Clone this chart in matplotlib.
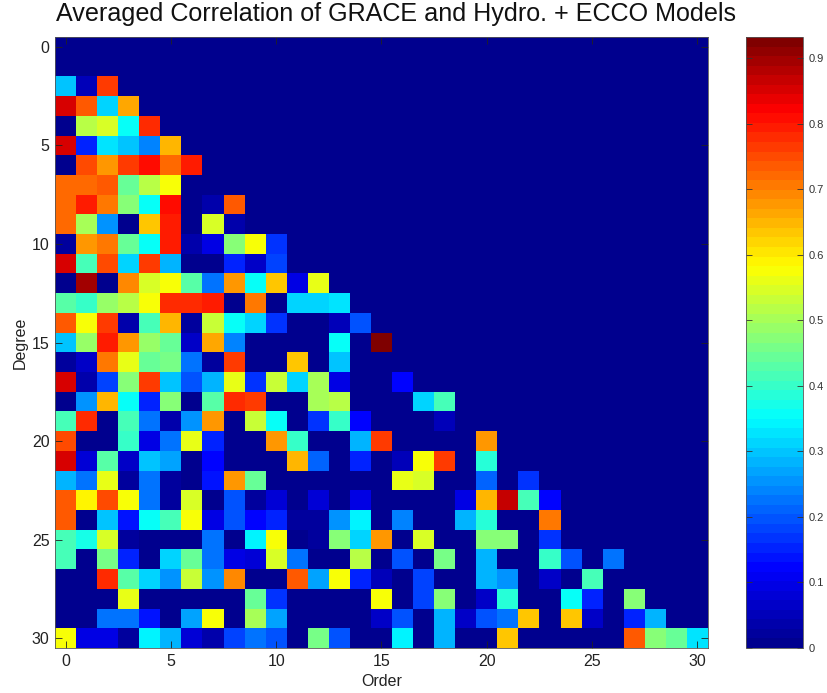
import numpy as np
import matplotlib
matplotlib.use("Agg")
import matplotlib.pyplot as plt
from matplotlib.colors import LinearSegmentedColormap

plt.rcParams['font.family'] = ['Liberation Sans', 'DejaVu Sans']

title = "Averaged Correlation of GRACE and Hydro. + ECCO Models"
x_label = "Order"
y_label = "Degree"
axis_ticks = [0, 5, 10, 15, 20, 25, 30]
bar_ticks = [0, .1, .2, .3, .4, .5, .6, .7, .8, .9]
bar_tick_labels = ["0", "0.1", "0.2", "0.3", "0.4", "0.5", "0.6", "0.7", "0.8", "0.9"]
vmax = 0.932

# Values per degree (row), from order 0 upward; orders not listed are zero
deg_00 = []
deg_01 = []
deg_02 = [.30, .05, .77]
deg_03 = [.85, .73, .31, .66]
deg_04 = [0, .52, .54, .35, .78]
deg_05 = [.85, .16, .33, .30, .24, .65]
deg_06 = [0, .75, .67, .77, .81, .72, .79]
deg_07 = [.72, .72, .74, .44, .52, .58]
deg_08 = [.72, .80, .70, .47, .35, .81, 0, .04, .74]
deg_09 = [.72, .50, .25, 0, .64, .79, 0, .54, .04]
deg_10 = [.02, .68, .71, .44, .36, .79, .04, .10, .47, .58, .17]
deg_11 = [.85, .42, .75, .31, .76, .28, .01, .01, .15, .06, .18]
deg_12 = [0, .90, 0, .69, .54, .58, .43, .23, .67, .35, .64, .10, .56]
deg_13 = [.43, .40, .49, .51, .58, .78, .78, .79, 0, .71, 0, .32, .31, .33]
deg_14 = [.74, .58, .76, .03, .41, .65, .02, .53, .35, .31, .17, 0, 0, .05, .20]
deg_15 = [.30, .49, .80, .67, .49, .45, .07, .66, .24, 0, 0, 0, 0, .35, 0, .93]
deg_16 = [.02, .07, .70, .56, .45, .46, .22, .02, .76, 0, 0, .64, 0, .30]
deg_17 = [.85, .03, .18, .47, .77, .30, .20, .29, .56, .17, .53, .31, .50, .10, 0, 0, .12]
deg_18 = [0, .26, .65, .35, .16, .47, .01, .43, .78, .76, 0, 0, .50, .52, 0, 0, 0, .31, .42]
deg_19 = [.42, .78, 0, .41, .22, .04, .26, .67, .01, .53, .35, .01, .17, .40, .12, 0, 0, 0, .05]
deg_20 = [.75, 0, 0, .40, .10, .22, .56, .15, 0, 0, .67, .40, 0, 0, .28, .76, 0, 0, 0, 0, .67]
deg_21 = [.85, .08, .43, .06, .30, .27, .01, .12, .01, .01, 0, .65, .21, 0, .15, 0, .05, .58, .77, 0, .38]
deg_22 = [.29, .22, .56, .02, .23, .02, 0, .14, .68, .45, 0, 0, 0, 0, 0, 0, .56, .54, 0, 0, .21, 0, .17]
deg_23 = [.74, .59, .75, .58, .22, .02, .54, .01, .19, .02, .08, 0, .08, 0, .09, 0, 0, 0, 0, .09, .65, .86, .42, .12]
deg_24 = [.74, .01, .30, .14, .35, .42, .58, .09, .20, .13, .16, .02, .02, .25, .34, 0, .24, 0, 0, .29, .38, 0, 0, .70]
deg_25 = [.42, .37, .54, .02, .01, .01, .01, .22, .01, .34, .58, .01, .02, .48, .31, .68, 0, .54, 0, 0, .48, .48, 0, .17]
deg_26 = [.41, 0, .46, .15, .01, .31, .44, .23, .09, .08, .55, .22, 0, 0, .52, 0, .20, 0, .46, 0, .29, 0, 0, .40, .19, 0, .23]
deg_27 = [0, 0, .78, .43, .31, .25, .53, .26, .69, 0, 0, .74, .27, .57, .16, .05, 0, .18, 0, 0, .29, .25, 0, .06, 0, .41]
deg_28 = [0, 0, 0, .56, 0, 0, 0, 0, 0, .45, .17, 0, 0, 0, 0, .58, 0, .18, .48, 0, .07, .38, 0, 0, .35, .16, 0, .47]
deg_29 = [0, 0, .22, .22, .14, 0, .27, .58, 0, .50, .27, 0, 0, 0, 0, .06, .20, 0, .29, .06, .19, .22, .64, 0, .64, .06, 0, .15, .29]
deg_30 = [.58, .09, .09, .02, .34, .28, .08, .03, .18, .22, .20, 0, .46, .20, 0, 0, .34, 0, .28, 0, 0, .64, 0, 0, 0, 0, 0, .74, .47, .45, .33]

rows = [deg_00, deg_01, deg_02, deg_03, deg_04, deg_05, deg_06, deg_07, deg_08, deg_09,
        deg_10, deg_11, deg_12, deg_13, deg_14, deg_15, deg_16, deg_17, deg_18, deg_19,
        deg_20, deg_21, deg_22, deg_23, deg_24, deg_25, deg_26, deg_27, deg_28, deg_29, deg_30]
grid = np.zeros((31, 31))
for i, r in enumerate(rows):
    grid[i, :len(r)] = r

W, H = 828, 693
fig = plt.figure(figsize=(W / 100, H / 100), dpi=100, facecolor='white')
ax = fig.add_axes([55 / W, 1 - 648 / H, 653 / W, 611 / H])
# Jet: navy start, red at about 0.825
cmap = LinearSegmentedColormap.from_list(
    'matlab_jet',
    [(0, (0, 0, .56)), (.125, (0, 0, 1)), (.375, (0, 1, 1)),
     (.625, (1, 1, 0)), (.885, (1, 0, 0)), (1, (.5, 0, 0))], N=64)
im = ax.imshow(grid, cmap=cmap, vmin=0, vmax=vmax, aspect='auto', interpolation='nearest')
ax.set_xticks(axis_ticks)
ax.set_yticks(axis_ticks)
ax.tick_params(direction='in', length=5, width=0.6, labelsize=11.5, color='#222222',
               labelcolor='#222222', top=True, right=True, pad=4)
ax.set_xlabel(x_label, fontsize=11.5, color='#222222', labelpad=4)
ax.set_ylabel(y_label, fontsize=11.5, color='#222222', labelpad=3)
for s in ax.spines.values():
    s.set_linewidth(0.6)
    s.set_color('#555555')
fig.text(396 / W, 1 - 14 / H, title, fontsize=18.1, ha='center', va='center', color='#111111')

cax = fig.add_axes([746 / W, 1 - 648 / H, 57 / W, 611 / H])
cb = fig.colorbar(im, cax=cax)
cb.set_ticks(bar_ticks)
cb.set_ticklabels(bar_tick_labels)
cax.tick_params(direction='in', length=4, width=0.6, labelsize=8, color='#333333',
                labelcolor='#333333', pad=4, left=True, right=True)
cb.outline.set_linewidth(0.6)
cb.outline.set_edgecolor('#555555')

fig.savefig('out.png', dpi=100, facecolor='white')
